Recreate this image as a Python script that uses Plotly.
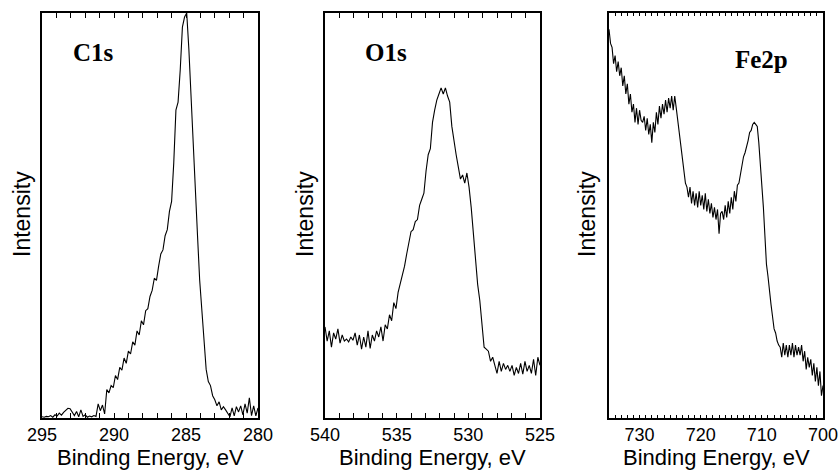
import numpy as np
import plotly.graph_objects as go

# ---------------- data (arbitrary intensity units, 0-100 of panel height) -------------
c1s_energy = np.linspace(295, 280, 101)
c1s_intensity = [
    0.3, 0.2, 0.4, 0.3, 0.6, 0.2, 0.8, 0.5, 1.2, 0.7,
    1.4, 2.0, 2.4, 2.3, 1.5, 0.6, 1.6, 0.3, 2.0, 0.4,
    0.8, 0.2, 0.5, 0.3, 0.6, 0.4, 3.5, 1.8, 3.2, 1.0,
    7.0, 6.2, 8.0, 7.5, 10.5, 9.5, 12.5, 11.8, 14.8, 13.5,
    16.5, 15.8, 18.8, 18.0, 21.5, 20.5, 24.0, 23.0, 26.5, 27.0,
    30.0, 31.5, 34.5, 34.0, 37.5, 40.5, 41.5, 45.0, 46.5, 51.0,
    53.5, 63.0, 76.0, 78.0, 86.0, 96.5, 99.0, 100.0, 91.0, 79.0,
    66.0, 53.0, 45.0, 34.0, 26.0, 18.0, 12.0, 9.0, 8.0, 5.5,
    4.5, 3.0, 4.0, 2.0, 2.8, 2.0, 1.2, 0.3, 2.5, 0.5,
    2.8, 1.5, 3.0, 0.8, 3.5, 1.2, 5.0, 0.6, 3.0, 0.5,
    2.5,
]

o1s_energy = np.linspace(540, 525, 101)
o1s_intensity = [
    22.5, 19.0, 21.5, 17.5, 21.0, 19.5, 22.0, 18.5, 20.5, 19.0,
    19.5, 18.8, 20.0, 19.2, 21.0, 18.0, 20.5, 17.0, 20.0, 17.5,
    21.5, 17.2, 20.5, 19.0, 21.5, 20.0, 22.5, 19.0, 23.0, 22.0,
    25.5, 24.0, 28.5, 27.0, 31.0, 33.0, 35.0, 37.5, 40.5, 43.0,
    46.0, 46.5, 48.5, 49.0, 52.5, 54.0, 55.5, 61.0, 65.0, 66.5,
    73.0, 76.0, 78.5, 80.0, 81.5, 80.0, 81.5, 79.5, 78.0, 72.0,
    68.0, 65.0, 62.0, 59.0, 60.0, 58.0, 60.5, 57.0, 52.0, 45.0,
    39.0, 33.0, 29.0, 23.0, 17.5, 17.0, 16.5, 14.0, 15.0, 13.0,
    11.0, 14.0, 11.5, 13.5, 12.0, 13.0, 11.5, 13.0, 10.5, 12.5,
    11.0, 13.5, 10.8, 14.0, 11.5, 13.0, 11.0, 14.5, 10.5, 15.0,
    13.0,
]

fe2p_energy = np.linspace(735, 700, 141)
fe2p_intensity = [
    96, 92.5, 91.5, 87.5,
    89.5, 85.5, 88, 84.5,
    86.5, 82, 84.5, 80,
    82.5, 77.5, 80, 75.5,
    77.5, 73, 76.5, 72.5,
    76, 73.5, 73, 74.5,
    71, 74, 70, 72.5,
    68, 73, 70.5, 75.5,
    72.5, 77, 74, 77.5,
    75, 78.5, 75.5, 79,
    76.5, 79.5, 76, 79.5,
    76.5, 73.5, 70, 68,
    64.5, 62, 58, 57,
    54.5, 57, 53, 56,
    52.5, 55.5, 52, 56,
    52.5, 55, 51.5, 55.5,
    51, 54, 50.5, 53,
    49.5, 52, 49, 51.5,
    45.5, 50.5, 51, 49,
    52.5, 49.5, 53.5, 50.5,
    54.5, 51.5, 56, 53.5,
    57.5, 58, 60.5, 62,
    64.5, 65.5, 67.5, 68.5,
    70.5, 71, 72.5, 73,
    72.5, 72, 68, 63,
    58, 52, 45, 38,
    35, 31, 28, 25,
    22, 21, 19, 18,
    17.5, 15, 18.5, 15.5,
    18, 15, 18, 15.5,
    18.5, 15, 18, 15.5,
    17.5, 15.5, 18, 14,
    16.5, 12, 15, 12.5,
    14.5, 10.5, 13.5, 9,
    12.5, 8, 11.5, 5.5,
    8,
]

panel_labels = ["C1s", "O1s", "Fe2p"]
x_ranges = [[295, 280], [540, 525], [735, 700]]
x_dticks = [5, 5, 10]
x_title = "Binding Energy, eV"
y_title = "Intensity"

series = [
    (c1s_energy, c1s_intensity),
    (o1s_energy, o1s_intensity),
    (fe2p_energy, fe2p_intensity),
]

# ---------------- layout -------------
W, H = 838, 471
px_domains = [(42, 258), (325, 540), (609, 823)]
top_px, bot_px = 13, 418
label_pos = [(71, 53), (363, 53), (733, 60)]
ytitle_x = [22, 305, 587]

fig = go.Figure()
axis_font = dict(family="Liberation Sans, Arial, sans-serif", size=18, color="black")

for k, (xe, yi) in enumerate(series):
    xa = "x" if k == 0 else f"x{k+1}"
    ya = "y" if k == 0 else f"y{k+1}"
    fig.add_trace(go.Scatter(
        x=xe, y=yi, mode="lines", xaxis=xa, yaxis=ya,
        line=dict(color="black", width=1.1), showlegend=False,
        hoverinfo="skip",
    ))
    x0, x1 = px_domains[k]
    ticklen = 5 if k < 2 else 3.5
    xkey = "xaxis" if k == 0 else f"xaxis{k+1}"
    ykey = "yaxis" if k == 0 else f"yaxis{k+1}"
    fig.layout[xkey] = dict(
        domain=[x0 / W, x1 / W], anchor=ya, range=x_ranges[k],
        dtick=x_dticks[k], tick0=0, ticks="inside", ticklen=ticklen,
        tickwidth=1, tickcolor="black",
        minor=dict(dtick=1, ticks="inside", ticklen=ticklen, tickwidth=1,
                   tickcolor="black", showgrid=False),
        showline=True, linecolor="black", linewidth=1.5, mirror="ticks",
        showgrid=False, zeroline=False, tickfont=axis_font,
        ticklabelstandoff=0, automargin=False, ticklabeloverflow="allow",
    )
    fig.layout[ykey] = dict(
        domain=[1 - bot_px / H, 1 - top_px / H], anchor=xa, range=[0, 100],
        showticklabels=False, ticks="", showline=True, linecolor="black",
        linewidth=1.5, mirror=True, showgrid=False, zeroline=False,
        automargin=False,
    )
    # panel label
    lx, ly = label_pos[k]
    fig.add_annotation(
        x=lx / W, y=1 - ly / H, xref="paper", yref="paper",
        text=f"<b>{panel_labels[k]}</b>", showarrow=False,
        xanchor="left", yanchor="middle",
        font=dict(family="Liberation Serif, Times New Roman, serif", size=25, color="black"),
    )
    # x title
    fig.add_annotation(
        x=(x0 + x1) / 2 / W, y=1 - 457 / H, xref="paper", yref="paper",
        text=x_title, showarrow=False, xanchor="center", yanchor="middle",
        font=dict(family="Liberation Sans, Arial, sans-serif", size=22, color="black"),
    )
    # y title
    fig.add_annotation(
        x=ytitle_x[k] / W, y=1 - 214 / H, xref="paper", yref="paper",
        text=y_title, showarrow=False, textangle=-90,
        xanchor="center", yanchor="middle",
        font=dict(family="Liberation Sans, Arial, sans-serif", size=23, color="black"),
    )

fig.update_layout(
    width=W, height=H, margin=dict(l=0, r=0, t=0, b=0, autoexpand=False),
    paper_bgcolor="white", plot_bgcolor="white",
)

fig.write_html(
    "out.html",
    config={"displayModeBar": False},
    post_script="document.body.style.margin='0';document.body.style.overflow='hidden';",
)
